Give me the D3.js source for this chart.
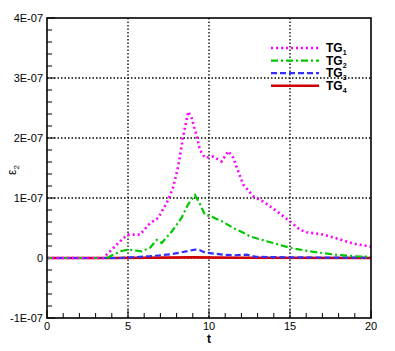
<!DOCTYPE html>
<html>
<head>
<meta charset="utf-8">
<script src="https://cdn.jsdelivr.net/npm/d3@7"></script>
<style>
body{margin:0;background:#fff}
</style>
</head>
<body>
<div id="chart"></div>
<script>
// values in units of 1E-07
var t1=[0,3.48,4.1,4.71,5.02,5.74,6.36,6.87,7.49,7.8,8.1,8.41,8.72,8.93,9.24,9.44,9.75,10.27,10.78,11.19,11.5,11.81,12.12,12.73,13.35,14.18,15.0,15.62,16.03,17.06,18.09,18.9,20]
var tg1=[0,0.0,0.17,0.33,0.39,0.39,0.58,0.67,0.97,1.19,1.53,2.03,2.44,2.33,2.03,1.8,1.67,1.69,1.61,1.78,1.67,1.44,1.22,1.03,0.94,0.78,0.61,0.47,0.43,0.39,0.31,0.24,0.19]
var t2=[0,3.7,4.5,5.02,5.85,6.36,6.77,7.08,7.7,8.31,8.72,9.14,9.44,9.75,10.17,10.88,11.5,12.12,12.53,13.56,15,16.23,17.67,18.9,20]
var tg2=[0,0,0.11,0.14,0.11,0.17,0.3,0.25,0.44,0.67,0.9,1.05,0.9,0.72,0.69,0.6,0.5,0.42,0.36,0.28,0.17,0.11,0.06,0.03,0.02]
var t3=[0,4.5,6.36,7.6,8.6,9.14,9.44,9.75,10.06,10.88,11.5,12.3,12.9,15,20]
var tg3=[0,0,0.03,0.06,0.11,0.14,0.13,0.09,0.08,0.055,0.045,0.055,0.02,0.01,0.005]
var t4=[0,4,9,12,20]
var tg4=[0,0,0.01,0.005,0]
var xTicks=[0,5,10,15,20]
var yTicks=[-1,0,1,2,3,4]
var yLabels=["-1E-07","0","1E-07","2E-07","3E-07","4E-07"]
var names=["1","2","3","4"]
var colors=["#ff00ff","#00c800","#3030ff","#d00000"]

var width=395,height=351
var margin={top:18,left:47,right:24,bottom:33}
var w=width-margin.left-margin.right,h=height-margin.top-margin.bottom

var svg=d3.select("#chart").append("svg")
	.attr("width",width)
	.attr("height",height)
var g=svg.append("g")
	.attr("transform","translate("+margin.left+","+margin.top+")")

var x=d3.scaleLinear().domain([0,20]).range([0,w])
var y=d3.scaleLinear().domain([-1,4]).range([h,0])

// grid
g.selectAll(".vgrid").data([5,10,15]).enter().append("line")
	.attr("x1",function(d){return x(d)}).attr("x2",function(d){return x(d)})
	.attr("y1",0).attr("y2",h)
	.attr("stroke","#000").attr("stroke-width",1.3).attr("stroke-dasharray","1.5,2")
g.selectAll(".hgrid").data([0,1,2,3]).enter().append("line")
	.attr("y1",function(d){return y(d)}).attr("y2",function(d){return y(d)})
	.attr("x1",0).attr("x2",w)
	.attr("stroke","#000").attr("stroke-width",1.3).attr("stroke-dasharray","1.5,2")

// minor ticks
g.selectAll(".xminor").data(d3.range(0,21,1)).enter().append("line")
	.attr("x1",function(d){return x(d)}).attr("x2",function(d){return x(d)})
	.attr("y1",h).attr("y2",function(d){return d%5==0?h-8:h-5})
	.attr("stroke","#000").attr("stroke-width",1)
g.selectAll(".yminor").data(d3.range(-1,4.01,0.2)).enter().append("line")
	.attr("y1",function(d){return y(d)}).attr("y2",function(d){return y(d)})
	.attr("x1",0).attr("x2",function(d){return Math.abs(d-Math.round(d))<0.01?8:5})
	.attr("stroke","#000").attr("stroke-width",1)

// tick labels
g.selectAll(".xl").data(xTicks).enter().append("text")
	.attr("x",function(d){return x(d)}).attr("y",h+12)
	.attr("text-anchor","middle")
	.attr("font-family","Liberation Sans, Arial, sans-serif").attr("font-size","11px")
	.text(function(d){return d})
g.selectAll(".yl").data(yTicks).enter().append("text")
	.attr("x",-4).attr("y",function(d){return y(d)+4})
	.attr("text-anchor","end")
	.attr("font-family","Liberation Sans, Arial, sans-serif").attr("font-size","11px")
	.text(function(d,i){return yLabels[i]})

// series
var series=[[t1,tg1],[t2,tg2],[t3,tg3],[t4,tg4]]
var dashes=["2,3","7,3,2,3","6,3",null]
var widths=[2.6,2.2,2.2,2.6]
var line=d3.line().x(function(d){return x(d[0])}).y(function(d){return y(d[1])})
for(var i=3;i>=0;i--){
	var pts=series[i][0].map(function(t,j){return [t,series[i][1][j]]})
	g.append("path").datum(pts)
		.attr("d",line)
		.attr("fill","none")
		.attr("stroke",colors[i])
		.attr("stroke-width",widths[i])
		.attr("stroke-dasharray",dashes[i])
}

// frame
g.append("rect").attr("x",0).attr("y",0).attr("width",w).attr("height",h)
	.attr("fill","none").attr("stroke","#000").attr("stroke-width",1.6)

// legend
for(var i=0;i<4;i++){
	var ly=48+i*12.6-margin.top
	g.append("line")
		.attr("x1",271-margin.left).attr("x2",319-margin.left)
		.attr("y1",ly).attr("y2",ly)
		.attr("stroke",colors[i]).attr("stroke-width",widths[i])
		.attr("stroke-dasharray",dashes[i])
	var tx=g.append("text")
		.attr("x",326-margin.left).attr("y",ly+4)
		.attr("font-family","Liberation Sans, Arial, sans-serif").attr("font-size","12px")
		.attr("font-weight","bold")
	tx.append("tspan").text("TG")
	tx.append("tspan").attr("font-size","7px").attr("dy",3).text(names[i])
}

// axis titles
svg.append("text")
	.attr("x",margin.left+x(10)).attr("y",343)
	.attr("text-anchor","middle")
	.attr("font-family","Liberation Sans, Arial, sans-serif").attr("font-size","12px").attr("font-weight","bold")
	.text("t")
var yt=svg.append("text")
	.attr("transform","translate(16,170) rotate(-90)")
	.attr("text-anchor","middle")
	.attr("font-family","Liberation Sans, Arial, sans-serif").attr("font-size","12px")
yt.append("tspan").text("ε")
yt.append("tspan").attr("font-size","8px").attr("dy",3).text("2")
</script>
</body>
</html>
